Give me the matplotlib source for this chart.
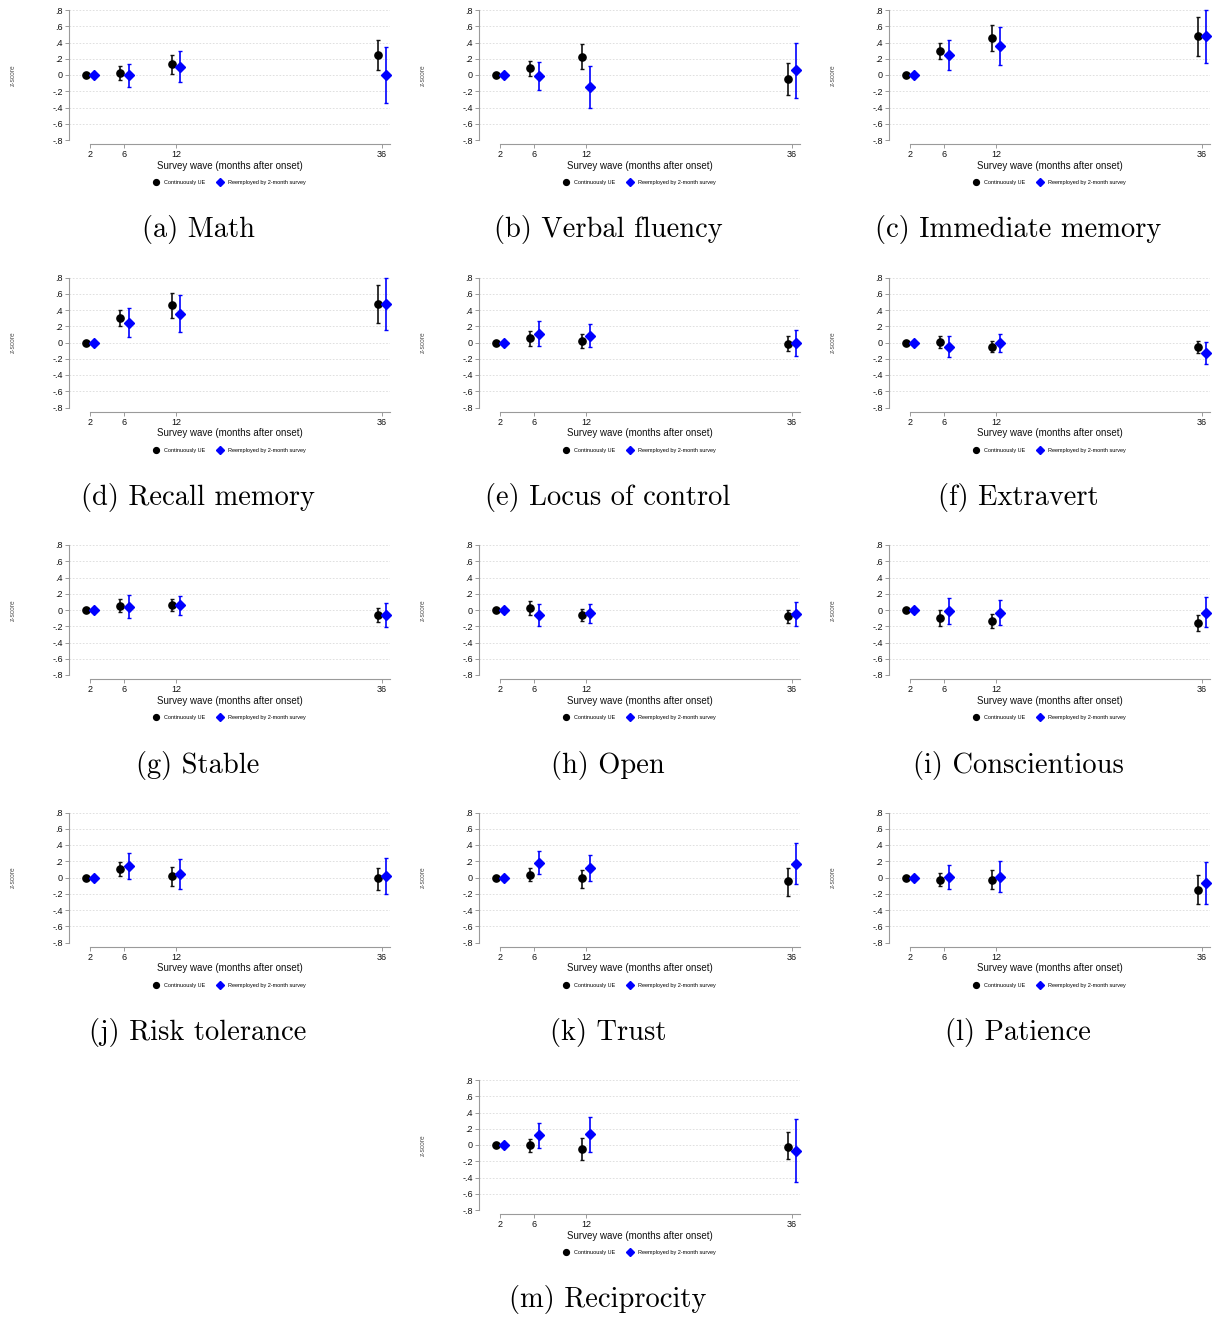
import matplotlib
matplotlib.use("Agg")
import matplotlib.pyplot as plt
from matplotlib.lines import Line2D

# ---------------- data ----------------
waves = [2, 6, 12, 36]
titles = ["(a) Math", "(b) Verbal fluency", "(c) Immediate memory",
          "(d) Recall memory", "(e) Locus of control", "(f) Extravert",
          "(g) Stable", "(h) Open", "(i) Conscientious",
          "(j) Risk tolerance", "(k) Trust", "(l) Patience", "(m) Reciprocity"]

# Continuously UE: point estimate, lower CI, upper CI (per wave)
ue_est = [
    [0, 0.03, 0.13, 0.243], [0, 0.087, 0.227, -0.05], [0, 0.30, 0.458, 0.474],
    [0, 0.30, 0.458, 0.474], [0, 0.05, 0.016, -0.02], [0, 0.012, -0.05, -0.05],
    [0, 0.053, 0.057, -0.062], [0, 0.025, -0.057, -0.074], [0, -0.094, -0.131, -0.164],
    [0, 0.103, 0.016, -0.012], [0, 0.029, -0.012, -0.049], [0, -0.029, -0.029, -0.152],
    [0, 0.0, -0.05, -0.02]]
ue_lo = [
    [0, -0.058, 0.012, 0.058], [0, -0.008, 0.078, -0.247], [0, 0.202, 0.30, 0.239],
    [0, 0.202, 0.305, 0.241], [0, -0.045, -0.07, -0.11], [0, -0.066, -0.12, -0.132],
    [0, -0.025, -0.016, -0.152], [0, -0.066, -0.131, -0.16], [0, -0.193, -0.226, -0.263],
    [0, 0.016, -0.107, -0.148], [0, -0.045, -0.127, -0.23], [0, -0.107, -0.14, -0.328],
    [0, -0.08, -0.185, -0.17]]
ue_hi = [
    [0, 0.115, 0.25, 0.425], [0, 0.173, 0.379, 0.153], [0, 0.396, 0.61, 0.709],
    [0, 0.40, 0.606, 0.709], [0, 0.14, 0.10, 0.074], [0, 0.082, 0.016, 0.02],
    [0, 0.135, 0.135, 0.029], [0, 0.107, 0.016, 0.004], [0, 0.0, -0.045, -0.062],
    [0, 0.189, 0.135, 0.119], [0, 0.111, 0.098, 0.123], [0, 0.053, 0.09, 0.025],
    [0, 0.08, 0.086, 0.16]]

# Reemployed by 2-month survey
re_est = [
    [0, 0.0, 0.10, 0.0], [0, -0.016, -0.148, 0.058], [0, 0.243, 0.355, 0.474],
    [0, 0.243, 0.355, 0.474], [0, 0.107, 0.082, -0.012], [0, -0.05, 0.0, -0.124],
    [0, 0.041, 0.057, -0.062], [0, -0.062, -0.041, -0.045], [0, -0.016, -0.033, -0.033],
    [0, 0.139, 0.045, 0.02], [0, 0.18, 0.119, 0.172], [0, 0.004, 0.012, -0.07],
    [0, 0.12, 0.13, -0.07]]
re_lo = [
    [0, -0.144, -0.09, -0.346], [0, -0.19, -0.408, -0.28], [0, 0.066, 0.128, 0.153],
    [0, 0.07, 0.128, 0.148], [0, -0.045, -0.058, -0.17], [0, -0.18, -0.115, -0.26],
    [0, -0.098, -0.062, -0.205], [0, -0.197, -0.16, -0.197], [0, -0.172, -0.18, -0.213],
    [0, -0.016, -0.144, -0.2], [0, 0.041, -0.037, -0.074], [0, -0.144, -0.176, -0.324],
    [0, -0.04, -0.09, -0.46]]
re_hi = [
    [0, 0.14, 0.297, 0.342], [0, 0.16, 0.115, 0.396], [0, 0.425, 0.586, 0.80],
    [0, 0.42, 0.581, 0.80], [0, 0.26, 0.23, 0.148], [0, 0.074, 0.11, 0.008],
    [0, 0.18, 0.172, 0.082], [0, 0.07, 0.078, 0.098], [0, 0.144, 0.119, 0.156],
    [0, 0.30, 0.23, 0.246], [0, 0.324, 0.279, 0.422], [0, 0.152, 0.20, 0.189],
    [0, 0.27, 0.35, 0.32]]

yticks = [0.8, 0.6, 0.4, 0.2, 0, -0.2, -0.4, -0.6, -0.8]
ytick_labels = [".8", ".6", ".4", ".2", "0", "-.2", "-.4", "-.6", "-.8"]
series_labels = ["Continuously UE", "Reemployed by 2-month survey"]

# ---------------- layout ----------------
W, H = 1221, 1317
DPI = 100
fig = plt.figure(figsize=(W / DPI, H / DPI), dpi=DPI)
plt.rcParams['font.family'] = ['Liberation Sans', 'DejaVu Sans']

COLW = 410
ROWH = 267.5
AX_L, AX_R = 69, 390
AX_T, AX_B = 10, 140
AXCOL = "#9a9a9a"

def px_axes(x0, y0, x1, y1):
    return fig.add_axes([x0 / W, 1 - y1 / H, (x1 - x0) / W, (y1 - y0) / H])

for i, title in enumerate(titles):
    if i < 12:
        col, row = i % 3, i // 3
    else:
        col, row = 1, 4
    ox, oy = col * COLW, row * ROWH
    ax = px_axes(ox + AX_L, oy + AX_T, ox + AX_R, oy + AX_B)
    ax.set_ylim(-0.8, 0.8)
    ax.set_xlim(-0.45, 36.93)

    for s in ["top", "right"]:
        ax.spines[s].set_visible(False)
    ax.spines["left"].set_color(AXCOL)
    ax.spines["bottom"].set_color(AXCOL)
    ax.spines["left"].set_linewidth(0.8)
    ax.spines["bottom"].set_linewidth(0.8)
    ax.spines["bottom"].set_position(("outward", 3))
    ax.spines["bottom"].set_bounds(2, 36.93)
    ax.spines["left"].set_bounds(-0.8, 0.8)

    ax.set_yticks(yticks)
    ax.set_yticklabels(ytick_labels)
    ax.set_xticks(waves)
    ax.set_xticklabels([str(w) for w in waves])
    ax.tick_params(axis="both", colors=AXCOL, labelcolor="#111111",
                   labelsize=6.5, length=3, width=0.7, pad=1.5)
    for yv in yticks:
        ax.axhline(yv, color="#dadada", lw=0.6, ls=(0, (2, 2)), zorder=0)

    xb = [w - 0.5 for w in waves]
    xr = [w + 0.5 for w in waves]
    e1, l1, h1 = ue_est[i], ue_lo[i], ue_hi[i]
    e2, l2, h2 = re_est[i], re_lo[i], re_hi[i]
    ax.errorbar(xb, e1, yerr=[[e - l for e, l in zip(e1, l1)], [h - e for e, h in zip(e1, h1)]],
                fmt="o", color="black", ecolor="#111111", ms=5.2, elinewidth=1.2,
                capsize=1.5, capthick=1.0, clip_on=False, zorder=3)
    ax.errorbar(xr, e2, yerr=[[e - l for e, l in zip(e2, l2)], [h - e for e, h in zip(e2, h2)]],
                fmt="D", color="blue", ecolor="blue", ms=5.2, elinewidth=1.2,
                capsize=1.5, capthick=1.0, clip_on=False, zorder=3)

    ax.set_xlabel("Survey wave (months after onset)", fontsize=7, color="#111111")
    ax.xaxis.set_label_coords(0.5, -0.16)
    ax.set_ylabel("z-score", fontsize=4.8, color="#555555")
    ax.yaxis.set_label_coords(-0.163, 0.5)

    handles = [Line2D([], [], marker="o", color="black", ls="none", ms=4.2),
               Line2D([], [], marker="D", color="blue", ls="none", ms=3.8)]
    ax.legend(handles, series_labels, loc="center", bbox_to_anchor=(0.5, -0.33),
              ncol=2, frameon=False, fontsize=4.0, handletextpad=0.9,
              columnspacing=2.2, handlelength=1.0, borderpad=0)

    cap_y = oy + 230
    fig.text((ox + 198) / W, 1 - cap_y / H, title, ha="center", va="center",
             fontsize=20.5, family=["cmr10", "DejaVu Serif"])

fig.savefig("out.png", dpi=DPI)
